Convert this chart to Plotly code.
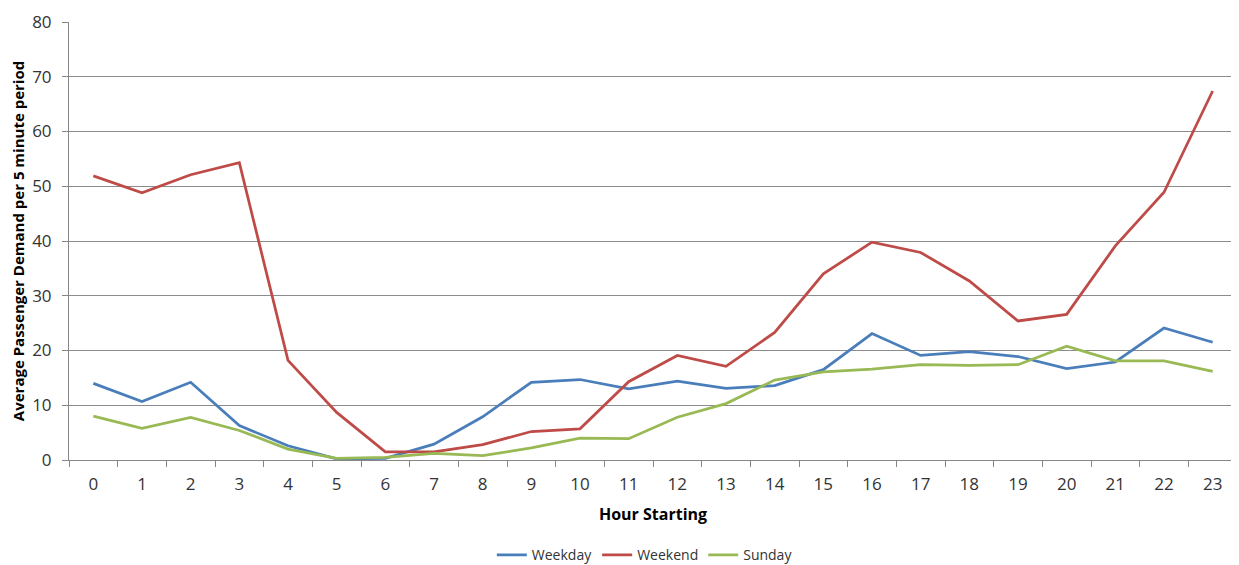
import plotly.graph_objects as go

hours = list(range(24))
tick_labels = [str(h) for h in hours]
weekday = [14.0, 10.7, 14.2, 6.3, 2.6, 0.2, 0.3, 2.9, 7.9, 14.2, 14.7, 13.0, 14.4, 13.1, 13.6, 16.5, 23.1, 19.1, 19.8, 18.9, 16.7, 17.9, 24.1, 21.5]
weekend = [51.9, 48.8, 52.1, 54.3, 18.2, 8.7, 1.5, 1.5, 2.8, 5.2, 5.7, 14.3, 19.1, 17.1, 23.3, 34.0, 39.8, 37.9, 32.7, 25.4, 26.6, 39.1, 48.9, 67.4]
sunday = [8.0, 5.8, 7.8, 5.4, 2.0, 0.3, 0.5, 1.2, 0.8, 2.2, 4.0, 3.9, 7.8, 10.3, 14.6, 16.1, 16.6, 17.4, 17.3, 17.4, 20.8, 18.1, 18.1, 16.2]

series = [("Weekday", weekday, "#4A7EBB"), ("Weekend", weekend, "#BE4B48"), ("Sunday", sunday, "#98B954")]

fig = go.Figure()
for name, vals, col in series:
    fig.add_trace(go.Scatter(x=hours, y=vals, mode="lines", name=name,
                             line=dict(color=col, width=2.75)))

font = "Open Sans, Liberation Sans, sans-serif"
fig.update_layout(
    width=1231, height=565,
    margin=dict(l=61, r=2, t=11, b=113),
    plot_bgcolor="white", paper_bgcolor="white",
    font=dict(family=font, color="#333333"),
    showlegend=True,
    legend=dict(orientation="h", x=0.493, xanchor="center", y=-0.2177, yanchor="middle",
                font=dict(size=14), itemwidth=30, tracegroupgap=0),
    xaxis=dict(
        type="linear", range=[-0.5, 23.5],
        tickmode="array", tickvals=hours, ticktext=tick_labels,
        ticks="", tickfont=dict(size=17), showgrid=False,
        ticklabelstandoff=9,
        showline=True, linecolor="#868686", linewidth=1,
        zeroline=False,
        minor=dict(tickmode="array", tickvals=[h - 0.5 for h in range(25)],
                   ticks="outside", ticklen=6, tickcolor="#868686", showgrid=False),
        title=dict(text="<b>Hour Starting</b>", font=dict(size=16, color="#000000"), standoff=14),
    ),
    yaxis=dict(
        range=[0, 80], tickvals=list(range(0, 81, 10)),
        ticks="outside", ticklen=6, tickcolor="#868686",
        tickfont=dict(size=17), ticklabelstandoff=7, ticklabeloverflow="allow",
        showgrid=True, gridcolor="#8C8C8C", gridwidth=1,
        showline=True, linecolor="#868686", linewidth=1, zeroline=False,
        title=dict(text="<b>Average Passenger Demand per 5 minute period</b>",
                   font=dict(size=15, color="#000000"), standoff=8),
    ),
)

fig.write_html("out.html")
